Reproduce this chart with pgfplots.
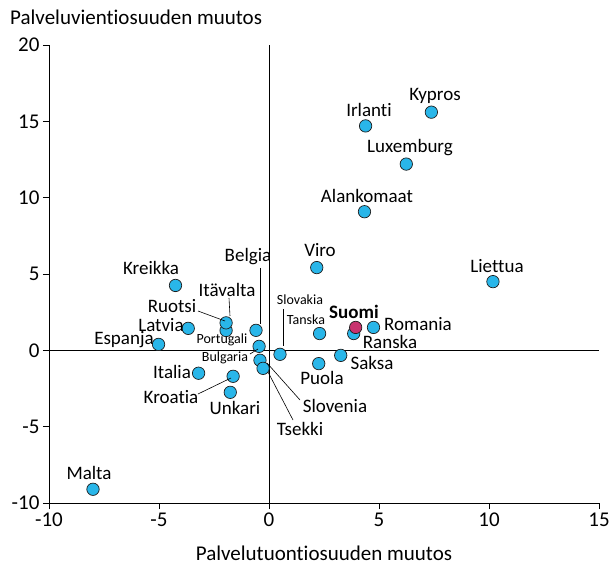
\documentclass[border=0pt]{standalone}
\usepackage{pgfplots}
\pgfplotsset{compat=1.18}
\usepackage{fontspec}
\setmainfont{Carlito}[Ligatures={NoCommon}]
\definecolor{dotblue}{RGB}{41,182,233}
\definecolor{suomic}{RGB}{200,50,110}
\definecolor{edge}{RGB}{30,30,30}
\begin{document}
\begin{tikzpicture}
\begin{axis}[
  scale only axis, width=550pt, height=458pt,
  xmin=-10, xmax=15, ymin=-10, ymax=20,
  axis x line*=bottom, axis y line*=left,
  axis line style={-, black, line width=0.7pt},
  xtick={-10,-5,0,5,10,15}, ytick={-10,-5,0,5,10,15,20},
  xticklabels={-10,-5,0,5,10,15}, yticklabels={-10,-5,0,5,10,15,20},
  tick align=outside, major tick length=6pt,
  tick style={black, line width=0.7pt},
  ticklabel style={font=\fontsize{21}{24}\selectfont},
  clip=false,
]
\draw[black, line width=0.7pt] (axis cs:0,-10) -- (axis cs:0,20);
\draw[black, line width=0.7pt] (axis cs:-10,0) -- (axis cs:15,0);
\addplot[only marks, mark=*, mark size=6.2pt, mark options={fill=dotblue, draw=edge, line width=0.7pt}] table[row sep=\\] {
x y\\
7.38 15.6\\
4.39 14.7\\
6.24 12.2\\
4.34 9.08\\
10.18 4.5\\
2.17 5.42\\
-4.25 4.25\\
-0.59 1.31\\
-1.95 1.3\\
-1.95 1.8\\
-3.67 1.44\\
-5.02 0.39\\
-0.45 0.26\\
-0.41 -0.65\\
-0.27 -1.18\\
-3.2 -1.5\\
-1.63 -1.7\\
-1.76 -2.75\\
0.5 -0.26\\
2.3 1.1\\
3.85 1.1\\
4.75 1.5\\
3.26 -0.33\\
2.26 -0.87\\
-8.0 -9.1\\
};
\addplot[only marks, mark=*, mark size=6.2pt, mark options={fill=suomic, draw=edge, line width=0.7pt}] table[row sep=\\] {
x y\\
3.94 1.5\\
};
\end{axis}
\begin{scope}[shift={(-49pt,503pt)}, x=1pt, y=-1pt]
\tikzset{lab/.style={font=\fontsize{19}{22}\selectfont, inner sep=0pt},
         sml/.style={font=\fontsize{14}{16}\selectfont, inner sep=0pt}}
\node[anchor=west, font=\fontsize{21}{24}\selectfont, inner sep=0pt] at (10,17) {Palveluvientiosuuden muutos};
\node[font=\fontsize{21}{24}\selectfont, inner sep=0pt] at (324,553) {Palvelutuontiosuuden muutos};
\node[lab] at (435,96) {Kypros};
\node[lab] at (369,110) {Irlanti};
\node[lab] at (410,148) {Luxemburg};
\node[lab] at (367,196) {Alankomaat};
\node[lab] at (497,266) {Liettua};
\node[lab] at (320,250) {Viro};
\node[lab] at (151,268) {Kreikka};
\node[lab] at (248,257) {Belgia};
\node[lab] at (227,290) {Itävalta};
\node[lab] at (172,306) {Ruotsi};
\node[lab] at (161,325) {Latvia};
\node[lab] at (124,340) {Espanja};
\node[sml] at (222,340) {Portugali};
\node[sml] at (225,358) {Bulgaria};
\node[lab] at (172,372) {Italia};
\node[lab] at (171,397) {Kroatia};
\node[lab] at (235,408) {Unkari};
\node[lab] at (335,406) {Slovenia};
\node[lab] at (300,429) {Tsekki};
\node[sml] at (300,300) {Slovakia};
\node[sml] at (306,320) {Tanska};
\node[font=\fontsize{19}{22}\selectfont\bfseries, inner sep=0pt] at (354,312) {Suomi};
\node[lab] at (418,324) {Romania};
\node[lab] at (390,342) {Ranska};
\node[lab] at (372,363) {Saksa};
\node[lab] at (322,378) {Puola};
\node[lab] at (89,473) {Malta};
\draw[black, line width=0.6pt] (260,268) -- (260,324);
\draw[black, line width=0.6pt] (229,298) -- (230,316);
\draw[black, line width=0.6pt] (198,311) -- (225,321);
\draw[black, line width=0.6pt] (250,354) -- (258,349);
\draw[black, line width=0.6pt] (198,394) -- (231,378);
\draw[black, line width=0.6pt] (267,363) -- (300,400);
\draw[black, line width=0.6pt] (268,372) -- (293,420);
\draw[black, line width=0.6pt] (283,309) -- (283,346);
\path[use as bounding box] (0,0) rectangle (614,571);
\end{scope}
\end{tikzpicture}
\end{document}
